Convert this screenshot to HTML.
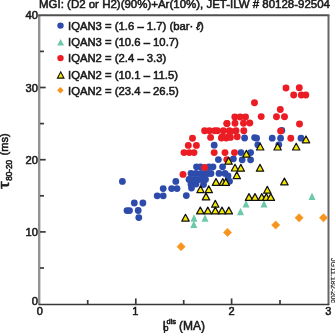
<!DOCTYPE html>
<html><head><meta charset="utf-8"><style>
html,body{margin:0;padding:0;background:#fff;overflow:hidden;width:335px;height:333px;}
svg{display:block;}
text{font-family:"Liberation Sans",sans-serif;fill:#1a1a1a;stroke:#1a1a1a;stroke-width:0.55px;}
svg{filter:blur(0.45px);}
</style></head><body>
<svg width="335" height="333" viewBox="0 0 335 333">
<text x="39" y="7.9" font-size="11.5" textLength="291" lengthAdjust="spacingAndGlyphs">MGI: (D2 or H2)(90%)+Ar(10%), JET-ILW # 80128-92504</text>
<!-- frame -->
<line x1="39.2" y1="15.6" x2="39.2" y2="304.5" stroke="#929292" stroke-width="2.4"/>
<line x1="38.2" y1="15.3" x2="329.4" y2="15.3" stroke="#505050" stroke-width="1.9"/>
<line x1="328.5" y1="15" x2="328.5" y2="304.5" stroke="#666" stroke-width="2"/>
<line x1="38.5" y1="304.5" x2="329.4" y2="304.5" stroke="#383838" stroke-width="1.7"/>
<!-- y ticks -->
<g stroke="#3a3a3a" stroke-width="1.7">
<line x1="40" y1="231.9" x2="45.7" y2="231.9"/>
<line x1="40" y1="159.7" x2="45.7" y2="159.7"/>
<line x1="40" y1="87.5" x2="45.7" y2="87.5"/>
<line x1="40" y1="268" x2="44" y2="268"/>
<line x1="40" y1="195.8" x2="44" y2="195.8"/>
<line x1="40" y1="123.6" x2="44" y2="123.6"/>
<line x1="40" y1="51.4" x2="44" y2="51.4"/>
<line x1="135.8" y1="298.4" x2="135.8" y2="304" />
<line x1="231.6" y1="298.4" x2="231.6" y2="304" />
<line x1="87.7" y1="300" x2="87.7" y2="304" />
<line x1="183.7" y1="300" x2="183.7" y2="304" />
<line x1="280" y1="300" x2="280" y2="304" />
</g>
<g font-size="11.2" text-anchor="end">
<text x="38" y="19">40</text>
<text x="38" y="91.5">30</text>
<text x="38" y="163.7">20</text>
<text x="38" y="235.9">10</text>
<text x="38" y="304.6">0</text>
</g>
<g font-size="11" text-anchor="middle">
<text x="39.7" y="315">0</text>
<text x="135.2" y="315">1</text>
<text x="231.6" y="315">2</text>
<text x="328.4" y="315">3</text>
</g>
<!-- axis labels -->
<text x="162.6" y="330" font-size="12.3">I</text>
<text x="163.6" y="331" font-size="9">p</text>
<text x="166.5" y="324" font-size="7.5">dis</text>
<text x="179" y="330" font-size="12">(MA)</text>
<g transform="translate(8.3,189) rotate(-90)">
<text x="0" y="0.3" font-size="15.5" textLength="7.6" lengthAdjust="spacingAndGlyphs">τ</text>
<text x="8.2" y="3.3" font-size="8.2" textLength="21" lengthAdjust="spacingAndGlyphs">80-20</text>
<text x="33.6" y="-0.5" font-size="11">(ms)</text>
</g>
<!-- legend -->
<g font-size="11.3">
<circle cx="60.5" cy="25.6" r="3.2" fill="#2d4baa"/>
<text x="68" y="29.6">IQAN3 = (1.6 – 1.7) (bar· <tspan font-style="italic">ℓ</tspan>)</text>
<polygon points="57.10,45.53 64.10,45.53 60.60,38.88" fill="#6ec8aa"/>
<text x="68" y="45.9">IQAN3 = (10.6 – 10.7)</text>
<circle cx="60.5" cy="58.1" r="3.2" fill="#eb1c24"/>
<text x="68" y="62.2">IQAN2 = (2.4 – 3.3)</text>
<polygon points="57.40,78.14 64.00,78.14 60.70,71.86" fill="#f5e800" stroke="#111" stroke-width="1.1"/>
<text x="68" y="78.5">IQAN2 = (10.1 – 11.5)</text>
<polygon points="60.4,87 63.7,90.3 60.4,93.6 57.1,90.3" fill="#f7941e"/>
<text x="68" y="94.8">IQAN2 = (23.4 – 26.5)</text>
</g>
<g transform="translate(330.6,258) rotate(90)">
<text x="0" y="0" font-size="7.5" textLength="45" lengthAdjust="spacingAndGlyphs" style="fill:#3a3a3a;stroke:#3a3a3a;stroke-width:0.3px">JG11.182-20c</text>
</g>
<circle cx="122.4" cy="181.4" r="3.4" fill="#2d4baa"/>
<circle cx="127" cy="210.6" r="3.4" fill="#2d4baa"/>
<circle cx="129.5" cy="210.6" r="3.4" fill="#2d4baa"/>
<circle cx="134.3" cy="203" r="3.4" fill="#2d4baa"/>
<circle cx="142.9" cy="203" r="3.4" fill="#2d4baa"/>
<circle cx="138.2" cy="210.5" r="3.4" fill="#2d4baa"/>
<circle cx="138.8" cy="217.6" r="3.4" fill="#2d4baa"/>
<circle cx="157.2" cy="195.8" r="3.4" fill="#2d4baa"/>
<circle cx="163.2" cy="195.8" r="3.4" fill="#2d4baa"/>
<circle cx="163.2" cy="188.6" r="3.4" fill="#2d4baa"/>
<circle cx="171.6" cy="188.6" r="3.4" fill="#2d4baa"/>
<circle cx="177" cy="188.6" r="3.4" fill="#2d4baa"/>
<circle cx="175.8" cy="181.4" r="3.4" fill="#2d4baa"/>
<circle cx="186.3" cy="195.6" r="3.4" fill="#2d4baa"/>
<circle cx="191.5" cy="188" r="3.4" fill="#2d4baa"/>
<circle cx="189" cy="179.5" r="3.4" fill="#2d4baa"/>
<circle cx="194" cy="179.5" r="3.4" fill="#2d4baa"/>
<circle cx="199" cy="179.5" r="3.4" fill="#2d4baa"/>
<circle cx="203" cy="179.5" r="3.4" fill="#2d4baa"/>
<circle cx="205.5" cy="179.5" r="3.4" fill="#2d4baa"/>
<circle cx="191" cy="173.5" r="3.4" fill="#2d4baa"/>
<circle cx="196" cy="173.5" r="3.4" fill="#2d4baa"/>
<circle cx="201" cy="173.5" r="3.4" fill="#2d4baa"/>
<circle cx="205" cy="173.5" r="3.4" fill="#2d4baa"/>
<circle cx="208" cy="173.5" r="3.4" fill="#2d4baa"/>
<circle cx="211" cy="173.5" r="3.4" fill="#2d4baa"/>
<circle cx="196.5" cy="166.8" r="3.4" fill="#2d4baa"/>
<circle cx="200.5" cy="166.8" r="3.4" fill="#2d4baa"/>
<circle cx="209" cy="166.8" r="3.4" fill="#2d4baa"/>
<circle cx="213" cy="166.8" r="3.4" fill="#2d4baa"/>
<circle cx="191" cy="184.5" r="3.4" fill="#2d4baa"/>
<circle cx="196" cy="184" r="3.4" fill="#2d4baa"/>
<circle cx="203.5" cy="184.5" r="3.4" fill="#2d4baa"/>
<circle cx="218.4" cy="159.6" r="3.4" fill="#2d4baa"/>
<circle cx="219" cy="173.4" r="3.4" fill="#2d4baa"/>
<circle cx="225" cy="173.4" r="3.4" fill="#2d4baa"/>
<circle cx="222.6" cy="166.8" r="3.4" fill="#2d4baa"/>
<circle cx="214.2" cy="145.2" r="3.4" fill="#2d4baa"/>
<circle cx="228" cy="176" r="3.4" fill="#2d4baa"/>
<circle cx="229.5" cy="181.3" r="3.4" fill="#2d4baa"/>
<circle cx="233.4" cy="158.8" r="3.4" fill="#2d4baa"/>
<circle cx="241" cy="152.6" r="3.4" fill="#2d4baa"/>
<circle cx="250.6" cy="152.6" r="3.4" fill="#2d4baa"/>
<circle cx="242.2" cy="159.8" r="3.4" fill="#2d4baa"/>
<circle cx="250.6" cy="159.8" r="3.4" fill="#2d4baa"/>
<circle cx="244.6" cy="138" r="3.4" fill="#2d4baa"/>
<circle cx="254.6" cy="137.6" r="3.4" fill="#2d4baa"/>
<circle cx="256.6" cy="138.2" r="3.4" fill="#2d4baa"/>
<circle cx="257.8" cy="144.8" r="3.4" fill="#2d4baa"/>
<circle cx="272.2" cy="138.2" r="3.4" fill="#2d4baa"/>
<circle cx="280.6" cy="138.2" r="3.4" fill="#2d4baa"/>
<circle cx="281.8" cy="130.4" r="3.4" fill="#2d4baa"/>
<circle cx="278.8" cy="144.8" r="3.4" fill="#2d4baa"/>
<circle cx="301" cy="138.2" r="3.4" fill="#2d4baa"/>
<circle cx="254.5" cy="102.7" r="3.45" fill="#eb1c24"/>
<circle cx="286" cy="88" r="3.45" fill="#eb1c24"/>
<circle cx="299.3" cy="87.7" r="3.45" fill="#eb1c24"/>
<circle cx="293.7" cy="95" r="3.45" fill="#eb1c24"/>
<circle cx="301.3" cy="95" r="3.45" fill="#eb1c24"/>
<circle cx="305.8" cy="95" r="3.45" fill="#eb1c24"/>
<circle cx="280.3" cy="109.5" r="3.45" fill="#eb1c24"/>
<circle cx="276.5" cy="116.8" r="3.45" fill="#eb1c24"/>
<circle cx="284.5" cy="116.8" r="3.45" fill="#eb1c24"/>
<circle cx="261.2" cy="116.6" r="3.45" fill="#eb1c24"/>
<circle cx="234.8" cy="117" r="3.45" fill="#eb1c24"/>
<circle cx="240.2" cy="117" r="3.45" fill="#eb1c24"/>
<circle cx="245.5" cy="117" r="3.45" fill="#eb1c24"/>
<circle cx="227" cy="123.5" r="3.45" fill="#eb1c24"/>
<circle cx="235" cy="123.2" r="3.45" fill="#eb1c24"/>
<circle cx="243.5" cy="123.2" r="3.45" fill="#eb1c24"/>
<circle cx="249.8" cy="123" r="3.45" fill="#eb1c24"/>
<circle cx="217.4" cy="130.8" r="3.45" fill="#eb1c24"/>
<circle cx="223.4" cy="130.8" r="3.45" fill="#eb1c24"/>
<circle cx="229.4" cy="130.8" r="3.45" fill="#eb1c24"/>
<circle cx="236" cy="130.8" r="3.45" fill="#eb1c24"/>
<circle cx="243.8" cy="130.8" r="3.45" fill="#eb1c24"/>
<circle cx="222.2" cy="136.8" r="3.45" fill="#eb1c24"/>
<circle cx="228.2" cy="136.8" r="3.45" fill="#eb1c24"/>
<circle cx="237.2" cy="136.8" r="3.45" fill="#eb1c24"/>
<circle cx="204.6" cy="130.8" r="3.45" fill="#eb1c24"/>
<circle cx="209.4" cy="130.8" r="3.45" fill="#eb1c24"/>
<circle cx="214.8" cy="130.8" r="3.45" fill="#eb1c24"/>
<circle cx="226.8" cy="123.6" r="3.45" fill="#eb1c24"/>
<circle cx="231" cy="131.4" r="3.45" fill="#eb1c24"/>
<circle cx="210.6" cy="137.4" r="3.45" fill="#eb1c24"/>
<circle cx="221.4" cy="138" r="3.45" fill="#eb1c24"/>
<circle cx="226.2" cy="138" r="3.45" fill="#eb1c24"/>
<circle cx="230.4" cy="137.4" r="3.45" fill="#eb1c24"/>
<circle cx="192.5" cy="138.3" r="3.45" fill="#eb1c24"/>
<circle cx="188.3" cy="145.4" r="3.45" fill="#eb1c24"/>
<circle cx="196.4" cy="145.4" r="3.45" fill="#eb1c24"/>
<circle cx="184" cy="152.6" r="3.45" fill="#eb1c24"/>
<circle cx="189.3" cy="152.6" r="3.45" fill="#eb1c24"/>
<circle cx="194" cy="152.6" r="3.45" fill="#eb1c24"/>
<circle cx="214.2" cy="152.6" r="3.45" fill="#eb1c24"/>
<circle cx="225" cy="152.6" r="3.45" fill="#eb1c24"/>
<circle cx="234.5" cy="152.6" r="3.45" fill="#eb1c24"/>
<circle cx="226.8" cy="159.6" r="3.45" fill="#eb1c24"/>
<circle cx="204.6" cy="167.4" r="3.45" fill="#eb1c24"/>
<circle cx="183" cy="174.4" r="3.45" fill="#eb1c24"/>
<circle cx="280.6" cy="131" r="3.45" fill="#eb1c24"/>
<circle cx="290.8" cy="138.2" r="3.45" fill="#eb1c24"/>
<circle cx="299.5" cy="124" r="3.45" fill="#eb1c24"/>
<polygon points="308.50,199.90 315.50,199.90 312.00,192.50" fill="#6ec8aa"/>
<polygon points="242.50,207.50 249.50,207.50 246.00,200.10" fill="#6ec8aa"/>
<polygon points="260.50,207.50 267.50,207.50 264.00,200.10" fill="#6ec8aa"/>
<polygon points="237.00,215.20 244.00,215.20 240.50,207.80" fill="#6ec8aa"/>
<polygon points="190.50,221.70 197.50,221.70 194.00,214.30" fill="#6ec8aa"/>
<polygon points="190.30,228.00 197.30,228.00 193.80,220.60" fill="#6ec8aa"/>
<polygon points="201.50,221.70 208.50,221.70 205.00,214.30" fill="#6ec8aa"/>
<polygon points="280.70,184.90 288.10,184.90 284.40,178.10" fill="#f5e800" stroke="#111" stroke-width="1.2" stroke-linejoin="round"/>
<polygon points="242.70,157.20 250.10,157.20 246.40,150.40" fill="#f5e800" stroke="#111" stroke-width="1.2" stroke-linejoin="round"/>
<polygon points="256.50,150.00 263.90,150.00 260.20,143.20" fill="#f5e800" stroke="#111" stroke-width="1.2" stroke-linejoin="round"/>
<polygon points="273.90,150.00 281.30,150.00 277.60,143.20" fill="#f5e800" stroke="#111" stroke-width="1.2" stroke-linejoin="round"/>
<polygon points="292.50,150.00 299.90,150.00 296.20,143.20" fill="#f5e800" stroke="#111" stroke-width="1.2" stroke-linejoin="round"/>
<polygon points="302.30,142.80 309.70,142.80 306.00,136.00" fill="#f5e800" stroke="#111" stroke-width="1.2" stroke-linejoin="round"/>
<polygon points="224.90,164.20 232.30,164.20 228.60,157.40" fill="#f5e800" stroke="#111" stroke-width="1.2" stroke-linejoin="round"/>
<polygon points="231.30,171.00 238.70,171.00 235.00,164.20" fill="#f5e800" stroke="#111" stroke-width="1.2" stroke-linejoin="round"/>
<polygon points="237.10,171.20 244.50,171.20 240.80,164.40" fill="#f5e800" stroke="#111" stroke-width="1.2" stroke-linejoin="round"/>
<polygon points="233.10,178.70 240.50,178.70 236.80,171.90" fill="#f5e800" stroke="#111" stroke-width="1.2" stroke-linejoin="round"/>
<polygon points="256.30,171.20 263.70,171.20 260.00,164.40" fill="#f5e800" stroke="#111" stroke-width="1.2" stroke-linejoin="round"/>
<polygon points="263.60,193.20 271.00,193.20 267.30,186.40" fill="#f5e800" stroke="#111" stroke-width="1.2" stroke-linejoin="round"/>
<polygon points="245.30,200.40 252.70,200.40 249.00,193.60" fill="#f5e800" stroke="#111" stroke-width="1.2" stroke-linejoin="round"/>
<polygon points="251.30,200.40 258.70,200.40 255.00,193.60" fill="#f5e800" stroke="#111" stroke-width="1.2" stroke-linejoin="round"/>
<polygon points="258.10,200.40 265.50,200.40 261.80,193.60" fill="#f5e800" stroke="#111" stroke-width="1.2" stroke-linejoin="round"/>
<polygon points="262.60,200.40 270.00,200.40 266.30,193.60" fill="#f5e800" stroke="#111" stroke-width="1.2" stroke-linejoin="round"/>
<polygon points="267.10,200.40 274.50,200.40 270.80,193.60" fill="#f5e800" stroke="#111" stroke-width="1.2" stroke-linejoin="round"/>
<polygon points="212.30,185.40 219.70,185.40 216.00,178.60" fill="#f5e800" stroke="#111" stroke-width="1.2" stroke-linejoin="round"/>
<polygon points="219.10,185.40 226.50,185.40 222.80,178.60" fill="#f5e800" stroke="#111" stroke-width="1.2" stroke-linejoin="round"/>
<polygon points="222.10,185.40 229.50,185.40 225.80,178.60" fill="#f5e800" stroke="#111" stroke-width="1.2" stroke-linejoin="round"/>
<polygon points="196.80,192.70 204.20,192.70 200.50,185.90" fill="#f5e800" stroke="#111" stroke-width="1.2" stroke-linejoin="round"/>
<polygon points="205.10,192.70 212.50,192.70 208.80,185.90" fill="#f5e800" stroke="#111" stroke-width="1.2" stroke-linejoin="round"/>
<polygon points="202.30,199.90 209.70,199.90 206.00,193.10" fill="#f5e800" stroke="#111" stroke-width="1.2" stroke-linejoin="round"/>
<polygon points="211.60,207.20 219.00,207.20 215.30,200.40" fill="#f5e800" stroke="#111" stroke-width="1.2" stroke-linejoin="round"/>
<polygon points="196.60,213.90 204.00,213.90 200.30,207.10" fill="#f5e800" stroke="#111" stroke-width="1.2" stroke-linejoin="round"/>
<polygon points="204.10,213.90 211.50,213.90 207.80,207.10" fill="#f5e800" stroke="#111" stroke-width="1.2" stroke-linejoin="round"/>
<polygon points="211.60,213.90 219.00,213.90 215.30,207.10" fill="#f5e800" stroke="#111" stroke-width="1.2" stroke-linejoin="round"/>
<polygon points="218.30,213.90 225.70,213.90 222.00,207.10" fill="#f5e800" stroke="#111" stroke-width="1.2" stroke-linejoin="round"/>
<polygon points="225.10,213.90 232.50,213.90 228.80,207.10" fill="#f5e800" stroke="#111" stroke-width="1.2" stroke-linejoin="round"/>
<polygon points="181.80,221.10 189.20,221.10 185.50,214.30" fill="#f5e800" stroke="#111" stroke-width="1.2" stroke-linejoin="round"/>
<polygon points="181.10000000000002,242.6 185.20000000000002,246.7 181.10000000000002,250.79999999999998 177.0,246.7" fill="#f7941e" stroke="#f7941e" stroke-width="0.6" stroke-linejoin="round"/>
<polygon points="227.5,228.3 231.6,232.4 227.5,236.5 223.39999999999998,232.4" fill="#f7941e" stroke="#f7941e" stroke-width="0.6" stroke-linejoin="round"/>
<polygon points="275.7,220.9 279.79999999999995,225 275.7,229.1 271.59999999999997,225" fill="#f7941e" stroke="#f7941e" stroke-width="0.6" stroke-linejoin="round"/>
<polygon points="299.1,213.70000000000002 303.2,217.8 299.1,221.9 295.0,217.8" fill="#f7941e" stroke="#f7941e" stroke-width="0.6" stroke-linejoin="round"/>
<polygon points="323.5,213.70000000000002 327.59999999999997,217.8 323.5,221.9 319.4,217.8" fill="#f7941e" stroke="#f7941e" stroke-width="0.6" stroke-linejoin="round"/>
</svg>
</body></html>
